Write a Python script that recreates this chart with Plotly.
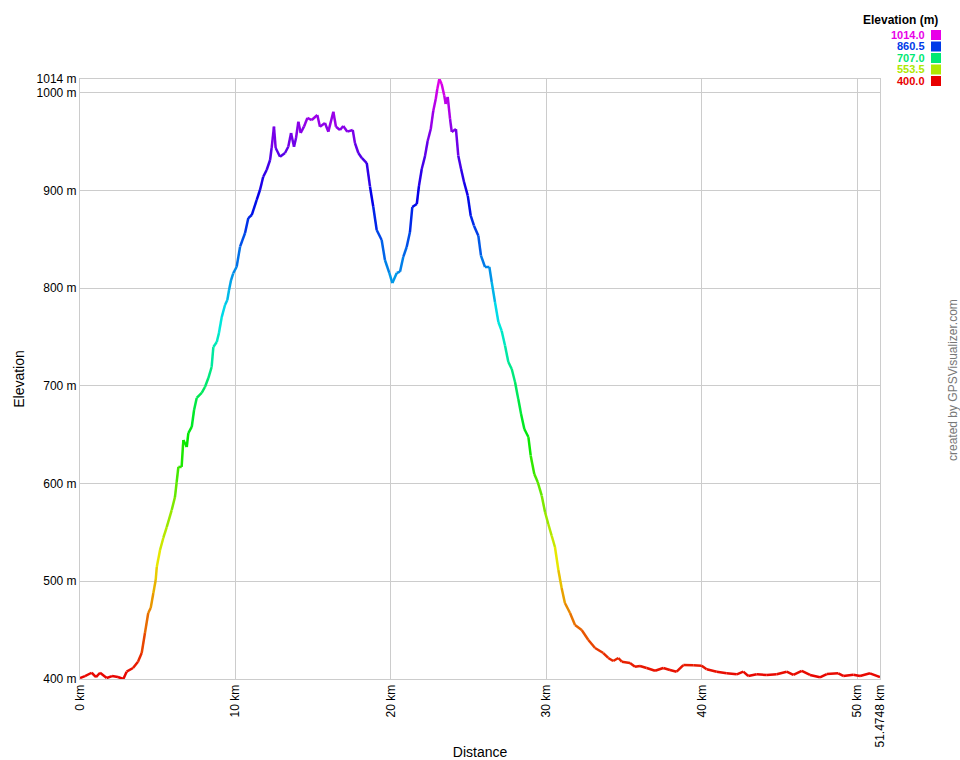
import colorsys
import plotly.graph_objects as go

# Distance along track (km) and elevation (m)
distance_km = [
    0.00, 0.32, 0.75, 1.03, 1.29, 1.72, 2.06, 2.44, 2.79, 3.00,
    3.41, 3.73, 3.97, 4.18, 4.39, 4.55, 4.72, 4.87, 4.94, 5.15,
    5.36, 5.58, 5.90, 6.11, 6.22, 6.33, 6.54, 6.65, 6.87, 6.97,
    7.19, 7.34, 7.51, 7.83, 8.04, 8.26, 8.47, 8.58, 8.80, 8.94,
    9.12, 9.33, 9.48, 9.59, 9.72, 9.86, 10.08, 10.30, 10.62, 10.83,
    11.05, 11.37, 11.58, 11.79, 12.01, 12.23, 12.33, 12.48, 12.59, 12.87,
    13.19, 13.40, 13.58, 13.77, 13.90, 14.05, 14.20, 14.41, 14.63, 14.91,
    15.27, 15.44, 15.76, 15.98, 16.30, 16.47, 16.73, 16.94, 17.20, 17.55,
    17.69, 17.91, 18.13, 18.45, 18.66, 18.87, 19.09, 19.41, 19.62, 19.90,
    20.10, 20.38, 20.59, 20.80, 21.02, 21.23, 21.38, 21.67, 21.81, 21.99,
    22.20, 22.37, 22.57, 22.73, 22.89, 22.99, 23.12, 23.27, 23.44, 23.53,
    23.66, 23.81, 23.92, 24.19, 24.34, 24.52, 24.71, 24.95, 25.14, 25.35,
    25.63, 25.80, 26.06, 26.34, 26.49, 26.70, 26.92, 27.13, 27.35, 27.56,
    27.78, 27.99, 28.20, 28.38, 28.59, 28.85, 29.00, 29.23, 29.45, 29.71,
    29.92, 30.13, 30.35, 30.56, 30.78, 30.99, 31.20, 31.53, 31.85, 32.28,
    32.71, 33.14, 33.67, 33.99, 34.31, 34.64, 34.86, 35.39, 35.71, 36.03,
    36.46, 37.00, 37.53, 37.96, 38.39, 38.82, 39.46, 40.00, 40.32, 40.97,
    41.61, 42.26, 42.68, 43.00, 43.54, 44.19, 44.83, 45.47, 45.90, 46.44,
    46.97, 47.61, 48.05, 48.79, 49.11, 49.76, 50.19, 50.83, 51.4748,
]
elevation_m = [
    401.0, 403.0, 406.4, 402.0, 406.4, 401.0, 403.0, 402.0, 400.0, 407.5,
    411.3, 417.7, 426.6, 447.1, 467.5, 472.7, 488.0, 501.3, 514.6, 532.0,
    544.3, 555.5, 572.9, 586.2, 601.6, 617.0, 617.0, 644.6, 637.4, 651.7,
    657.9, 675.3, 687.6, 692.7, 698.8, 708.0, 719.3, 739.7, 744.9, 754.1,
    770.4, 782.7, 787.9, 798.1, 808.3, 815.2, 821.9, 842.4, 856.4, 871.7,
    874.8, 890.2, 900.4, 914.0, 920.9, 931.1, 943.4, 965.2, 943.4, 934.5,
    938.3, 944.7, 958.7, 944.7, 953.6, 970.3, 958.7, 965.2, 974.1, 972.0,
    977.2, 965.2, 969.0, 960.1, 980.5, 965.2, 961.8, 965.9, 960.1, 961.8,
    948.5, 938.3, 933.2, 928.0, 903.8, 883.3, 859.5, 849.3, 828.8, 815.5,
    805.2, 815.5, 816.8, 831.9, 842.1, 857.4, 883.0, 886.1, 904.5, 921.9,
    935.2, 950.5, 962.8, 981.3, 993.5, 1003.8, 1014.0, 1008.9, 996.9, 988.4,
    995.6, 973.1, 959.8, 962.8, 935.5, 921.9, 908.6, 894.6, 874.1, 863.9,
    853.6, 833.2, 821.6, 821.6, 806.3, 785.8, 765.3, 756.4, 741.1, 724.4,
    717.2, 703.9, 686.5, 671.2, 655.8, 647.6, 628.5, 609.8, 601.6, 587.6,
    570.9, 558.6, 546.6, 535.1, 511.5, 493.1, 477.8, 467.5, 455.3, 450.1,
    439.9, 431.7, 426.6, 421.5, 418.4, 421.5, 417.7, 416.4, 412.6, 413.3,
    411.3, 408.5, 411.3, 409.2, 407.5, 414.3, 414.0, 413.6, 409.9, 407.5,
    405.8, 404.8, 407.5, 403.1, 404.8, 404.1, 404.8, 407.5, 404.1, 408.2,
    404.1, 401.7, 405.1, 405.8, 403.1, 404.4, 403.1, 405.8, 402.0,
]

y_ticks = [400, 500, 600, 700, 800, 900, 1000, 1014]
y_tick_labels = ["400 m", "500 m", "600 m", "700 m", "800 m", "900 m", "1000 m", "1014 m"]
x_ticks = [0, 10, 20, 30, 40, 50, 51.4748]
x_tick_labels = ["0 km", "10 km", "20 km", "30 km", "40 km", "50 km", "51.4748 km"]
legend_values = [1014.0, 860.5, 707.0, 553.5, 400.0]

E_MIN, E_MAX = 400.0, 1014.0


def elev_color(e):
    h = 300.0 * (e - E_MIN) / (E_MAX - E_MIN) / 360.0
    h = min(max(h, 0.0), 300.0 / 360.0)
    r, g, b = colorsys.hsv_to_rgb(h, 1.0, 0.91)
    return "rgb(%d,%d,%d)" % (round(r * 255), round(g * 255), round(b * 255))


fig = go.Figure()
for i in range(len(distance_km) - 1):
    mid = 0.5 * (elevation_m[i] + elevation_m[i + 1])
    fig.add_trace(go.Scatter(
        x=[distance_km[i], distance_km[i + 1]],
        y=[elevation_m[i], elevation_m[i + 1]],
        mode="lines",
        line=dict(color=elev_color(mid), width=2.5),
        hoverinfo="skip",
        showlegend=False,
    ))

FONT = "Liberation Sans, Arial, sans-serif"

fig.update_layout(
    width=960, height=760,
    margin=dict(l=80, r=80, t=79, b=81, autoexpand=False),
    paper_bgcolor="white", plot_bgcolor="white",
    font=dict(family=FONT, size=12, color="black"),
    showlegend=False,
    xaxis=dict(
        range=[0, 51.4748], tickmode="array", tickvals=x_ticks, ticktext=x_tick_labels,
        tickangle=-90, showgrid=True, gridcolor="#cccccc", gridwidth=1,
        showline=True, linecolor="#cccccc", linewidth=1, mirror=True,
        zeroline=False, ticks="", tickfont=dict(size=12), automargin=False,
        title=dict(text="Distance", font=dict(size=14), standoff=8),
    ),
    yaxis=dict(
        range=[400, 1014], tickmode="array", tickvals=y_ticks, ticktext=y_tick_labels,
        showgrid=True, gridcolor="#cccccc", gridwidth=1,
        showline=True, linecolor="#cccccc", linewidth=1, mirror=True,
        zeroline=False, ticks="", tickfont=dict(size=12), automargin=False,
        title=dict(text="Elevation", font=dict(size=14), standoff=8),
    ),
)


def px_x(px):
    return (px - 80) / 800.0


def px_y(py):
    return (679 - py) / 600.0


fig.add_annotation(
    x=px_x(939), y=px_y(20), xref="paper", yref="paper", text="<b>Elevation (m)</b>",
    showarrow=False, xanchor="right", yanchor="middle", font=dict(size=12, color="black"),
    borderpad=0,
)
legend_rows = [35, 46.5, 58, 69.5, 81]
for v, py in zip(legend_values, legend_rows):
    c = elev_color(v)
    fig.add_annotation(
        x=px_x(926), y=px_y(py), xref="paper", yref="paper", text="<b>%.1f</b>" % v,
        showarrow=False, xanchor="right", yanchor="middle", font=dict(size=11, color=c),
        borderpad=0,
    )
    fig.add_shape(
        type="rect", xref="paper", yref="paper",
        x0=px_x(931), x1=px_x(941), y0=px_y(py + 5), y1=px_y(py - 5),
        fillcolor=c, line=dict(width=0),
    )

fig.add_annotation(
    x=px_x(953), y=px_y(380), xref="paper", yref="paper", text="created by GPSVisualizer.com",
    showarrow=False, textangle=-90, xanchor="center", yanchor="middle",
    font=dict(size=12, color="#777777"),
)

fig.write_html(
    "out.html",
    config={"displayModeBar": False},
    post_script="document.body.style.margin='0px';document.body.style.overflow='hidden';",
)
